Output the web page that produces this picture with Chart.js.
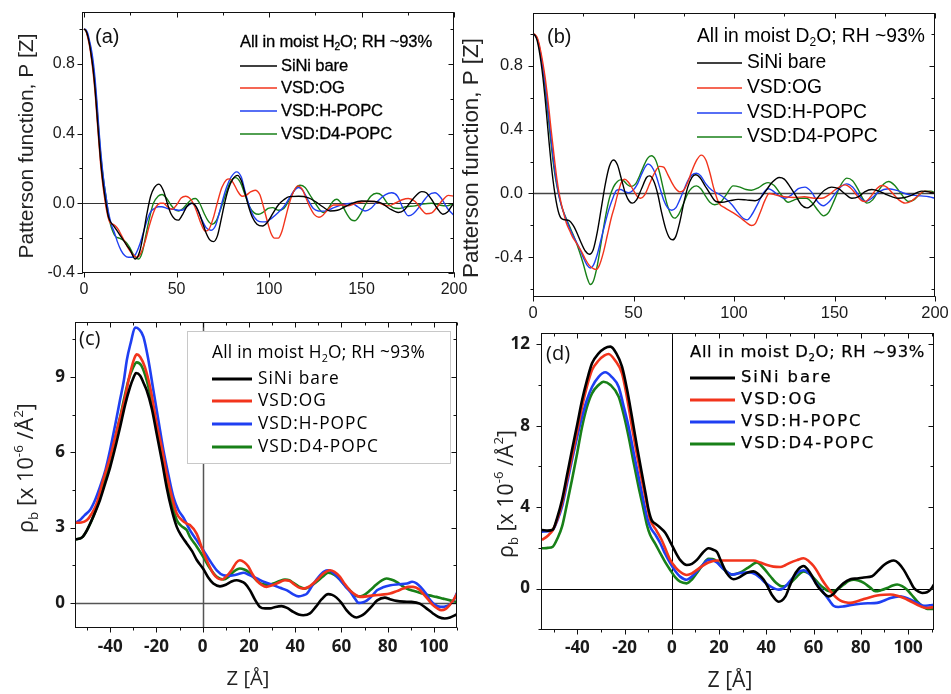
<!DOCTYPE html>
<html><head><meta charset="utf-8">
<script src="https://cdn.jsdelivr.net/npm/chart.js@4/dist/chart.umd.min.js"></script>
<style>
html,body{margin:0;padding:0;background:#fff;width:951px;height:694px;overflow:hidden}
canvas{position:absolute;left:0;top:0}
</style></head><body>
<canvas id="ca" width="951" height="694"></canvas>
<canvas id="cb" width="951" height="694"></canvas>
<canvas id="cc" width="951" height="694"></canvas>
<canvas id="cd" width="951" height="694"></canvas>
<script>
// ---------- series names ----------
const seriesNames = ['SiNi bare','VSD:OG','VSD:H-POPC','VSD:D4-POPC'];

// ---------- tick values ----------
const abXTicks = [0,50,100,150,200];
const abYTicks = [-0.4,0,0.4,0.8];
const cdXTicks = [-40,-20,0,20,40,60,80,100];
const cYTicks = [0,3,6,9];
const dYTicks = [0,4,8,12];

// ---------- panel (a): Patterson function, H2O ----------
const aSiNi = [[0,1.0],[1,0.99],[2,0.96],[3,0.91],[4,0.84],[5,0.76],[6,0.65],[7,0.51],[8,0.37],[9,0.24],[10,0.14],[11,0.06],[12,-0.01],[13,-0.07],[14,-0.1],[16,-0.13],[18,-0.16],[20.5,-0.2],[23,-0.24],[25,-0.27],[27.7,-0.32],[30,-0.28],[32,-0.18],[34,-0.06],[36,0.04],[38,0.09],[40.5,0.11],[43,0.07],[45,0.0],[47,-0.06],[49,-0.09],[51,-0.097],[53,-0.07],[55.5,-0.02],[58,0.0],[60,-0.01],[62,-0.05],[64,-0.11],[66,-0.17],[68,-0.21],[70,-0.22],[72,-0.19],[74,-0.1],[76,0.0],[78,0.08],[80.5,0.14],[83,0.16],[85,0.13],[87,0.06],[89,-0.02],[91,-0.08],[93.5,-0.12],[96.5,-0.13],[99,-0.11],[102,-0.06],[105,-0.01],[108,0.02],[111,0.038],[116,0.04],[121,0.032],[125,0.01],[129,-0.02],[133,-0.044],[137,-0.04],[141,-0.02],[145,0.0],[150,0.013],[157,0.01],[161,0.0],[165,-0.03],[170,-0.053],[173,-0.04],[176,0.0],[179.5,0.045],[182.5,0.067],[185,0.06],[188,0.02],[191,-0.03],[194,-0.063],[196.5,-0.05],[198.5,-0.02],[200,0.0]];
const aOG = [[0,1.0],[1,0.99],[2,0.95],[3,0.9],[4,0.83],[5,0.74],[6,0.63],[7,0.49],[8,0.35],[9,0.22],[10,0.12],[11,0.04],[12,-0.03],[13,-0.08],[14,-0.11],[15.5,-0.12],[17,-0.13],[18.5,-0.15],[20,-0.18],[22,-0.22],[24,-0.26],[26,-0.29],[28.6,-0.31],[30.5,-0.29],[33,-0.22],[35,-0.14],[37,-0.07],[39,-0.02],[41.3,0.0],[43,0.0],[45,-0.02],[47.6,-0.034],[50,-0.01],[52.5,0.03],[55,0.04],[57,0.03],[59,0.0],[61,-0.05],[63,-0.11],[65.5,-0.16],[67.5,-0.15],[70,-0.08],[72,0.0],[74.5,0.09],[77,0.135],[78.5,0.14],[80.5,0.12],[83,0.07],[85.5,0.04],[87.5,0.045],[90,0.065],[92.5,0.075],[95,0.05],[97,-0.02],[99,-0.1],[101,-0.17],[103,-0.2],[105,-0.2],[107,-0.16],[109,-0.08],[111,0.0],[113,0.06],[115.5,0.1],[118,0.08],[120,0.03],[122,-0.02],[124.5,-0.065],[127,-0.08],[129,-0.07],[131.5,-0.04],[135,-0.01],[140,-0.01],[143,-0.015],[147,0.0],[152,0.01],[157,0.01],[161,-0.005],[164.5,-0.015],[168,0.0],[172,0.02],[175.3,0.027],[179,0.01],[182,-0.03],[185,-0.06],[188,-0.055],[191,-0.02],[194,0.02],[197,0.045],[200,0.04]];
const aHPOPC = [[0,1.0],[1,0.995],[2,0.975],[3,0.93],[4,0.88],[5,0.81],[6,0.71],[7,0.58],[8,0.43],[9,0.3],[10,0.19],[11,0.1],[12,0.03],[13,-0.04],[14,-0.09],[15,-0.13],[16.5,-0.17],[18,-0.22],[20,-0.27],[22,-0.3],[24,-0.31],[26,-0.31],[28,-0.29],[30,-0.24],[32,-0.17],[34,-0.1],[36,-0.05],[38,-0.03],[40,-0.02],[42,-0.02],[45,-0.03],[48.5,-0.035],[51,-0.04],[53,-0.04],[55.5,-0.02],[58.4,0.0],[61,-0.03],[63.5,-0.09],[66,-0.14],[68.5,-0.155],[71,-0.13],[73,-0.06],[75,0.02],[77,0.09],[79.5,0.15],[82.5,0.18],[85,0.15],[87,0.07],[89.5,-0.02],[92,-0.08],[95,-0.105],[98,-0.107],[101.5,-0.085],[105,-0.053],[108,-0.02],[111,0.03],[113.5,0.07],[116,0.09],[118.5,0.07],[121,0.02],[124,-0.03],[126.7,-0.044],[130,-0.045],[134,-0.03],[139,-0.01],[144.7,0.0],[148,-0.02],[151.9,-0.044],[155,-0.03],[158.5,0.01],[163,0.05],[166.3,0.06],[169.5,0.04],[172.5,-0.03],[175.3,-0.072],[178,-0.06],[182,-0.01],[186,0.045],[189.7,0.06],[193,0.03],[196.5,-0.03],[200,-0.07]];
const aD4POPC = [[0,1.0],[1,0.99],[2,0.96],[3,0.92],[4,0.86],[5,0.78],[6,0.68],[7,0.55],[8,0.41],[9,0.28],[10,0.18],[11,0.1],[12,0.03],[13,-0.05],[14,-0.11],[15.5,-0.16],[17,-0.19],[19,-0.2],[22.3,-0.22],[24.5,-0.25],[26.5,-0.29],[29.5,-0.32],[31.5,-0.28],[33.5,-0.18],[35.5,-0.08],[37.5,0.0],[40,0.04],[42.2,0.05],[44.5,0.03],[47,-0.01],[49,-0.035],[51.2,-0.044],[53.5,-0.03],[56,0.0],[58,0.02],[60.2,0.027],[62.5,0.0],[65,-0.06],[67,-0.1],[69.2,-0.12],[71.5,-0.1],[74,-0.03],[76.5,0.05],[79,0.12],[81.8,0.147],[84.5,0.12],[87,0.05],[89.5,-0.02],[92,-0.055],[94.4,-0.063],[97,-0.05],[99.5,-0.03],[102,-0.025],[105,-0.04],[108,-0.03],[111,0.02],[114,0.08],[116.8,0.103],[119.5,0.09],[122,0.05],[125,0.0],[129.4,-0.053],[132,-0.03],[134.5,0.01],[136.6,0.023],[139,0.0],[142,-0.06],[144.5,-0.095],[146.5,-0.1],[149,-0.07],[152,-0.01],[155,0.04],[158.2,0.057],[161,0.045],[164,0.0],[167,-0.025],[170,-0.03],[174,-0.02],[178.9,-0.015],[183,-0.005],[188,0.0],[192,-0.01],[196,-0.015],[200,0.0]];

// ---------- panel (b): Patterson function, D2O ----------
const bSiNi = [[0,1.0],[1,0.99],[2,0.96],[3,0.9],[4,0.82],[5,0.72],[6,0.6],[7,0.46],[8,0.32],[9,0.19],[10,0.08],[11,-0.01],[12,-0.08],[13,-0.13],[14,-0.155],[16,-0.165],[18,-0.17],[20,-0.2],[22,-0.25],[24,-0.31],[26,-0.36],[28,-0.38],[30,-0.35],[32,-0.24],[34,-0.09],[36,0.06],[38,0.17],[40,0.21],[42,0.18],[44,0.09],[46,0.0],[48,-0.05],[49.5,-0.06],[51.5,-0.04],[54,0.03],[56.5,0.1],[58,0.11],[60,0.08],[62,0.0],[64,-0.12],[66,-0.22],[68,-0.28],[69.5,-0.29],[71,-0.27],[73,-0.18],[75,-0.06],[77,0.04],[79,0.1],[81,0.117],[83,0.1],[85.5,0.05],[88,0.0],[91,-0.05],[94,-0.055],[98,-0.045],[102,-0.037],[106,-0.04],[110.5,-0.045],[113,-0.03],[116,0.02],[119,0.07],[122.5,0.1],[125,0.09],[128,0.04],[131,-0.02],[133.5,-0.07],[136.2,-0.09],[139,-0.07],[142,-0.02],[145,0.02],[148.6,0.04],[152,0.03],[155,0.0],[158.6,-0.03],[162,-0.02],[165,0.01],[168.6,0.025],[172,0.015],[175.5,-0.005],[178.5,-0.02],[181.8,-0.03],[185,-0.025],[188.5,-0.01],[191,0.005],[193.5,0.015],[197,0.01],[200,0.0]];
const bOG = [[0,1.0],[1,0.995],[2,0.98],[3,0.94],[4,0.88],[5,0.81],[6,0.73],[7,0.63],[8,0.52],[9,0.4],[10,0.29],[11,0.18],[12,0.08],[13,0.0],[14,-0.06],[15,-0.11],[16.6,-0.185],[18.5,-0.24],[20,-0.28],[21.6,-0.31],[24,-0.36],[26,-0.41],[28,-0.45],[30,-0.47],[31.5,-0.475],[33,-0.45],[35,-0.37],[37,-0.26],[39,-0.15],[40.6,-0.08],[42,-0.01],[44,0.07],[45.6,0.09],[47.5,0.07],[50,0.02],[52,-0.02],[53.5,-0.03],[55.5,-0.01],[58,0.06],[60.5,0.13],[63,0.17],[65,0.165],[67,0.12],[69,0.07],[71,0.03],[73,0.01],[75,0.02],[77,0.07],[79,0.14],[81.5,0.21],[83.7,0.24],[86,0.21],[88,0.13],[90,0.03],[92.5,-0.06],[95.5,-0.09],[99.5,-0.12],[103,-0.15],[106,-0.18],[108.7,-0.2],[110.5,-0.19],[113,-0.12],[115.5,-0.04],[117.5,0.0],[121,-0.01],[125,-0.02],[130,-0.025],[135,-0.02],[140,-0.03],[143.7,-0.03],[147,-0.01],[150,0.02],[153,0.045],[155.3,0.054],[158,0.035],[161,-0.01],[163.5,-0.045],[165.3,-0.05],[168,-0.02],[171,0.03],[173.6,0.05],[176,0.04],[179,0.0],[182,-0.04],[185.1,-0.06],[188,-0.05],[191,-0.02],[195,0.015],[197.5,0.01],[200,0.0]];
const bHPOPC = [[0,1.0],[1,0.99],[2,0.97],[3,0.93],[4,0.86],[5,0.78],[6,0.69],[7,0.58],[8,0.46],[9,0.34],[10,0.23],[11,0.13],[12,0.05],[13,-0.02],[14,-0.07],[15,-0.11],[17,-0.18],[19,-0.24],[21,-0.29],[23,-0.34],[25,-0.4],[27,-0.45],[28.5,-0.466],[30,-0.45],[32,-0.38],[34,-0.28],[36,-0.18],[38,-0.09],[40,-0.02],[41.5,0.02],[43.5,0.025],[46,0.01],[47.5,0.005],[49.8,0.02],[52,0.06],[54,0.12],[56,0.17],[57.2,0.185],[59,0.17],[61,0.12],[63,0.04],[65,-0.04],[67,-0.09],[69,-0.105],[71,-0.09],[73,-0.04],[75,0.02],[77,0.08],[79,0.115],[81.3,0.127],[83.5,0.11],[86,0.06],[89,0.02],[92,0.0],[95.5,-0.03],[99,-0.07],[102,-0.12],[104.5,-0.155],[106.5,-0.165],[109,-0.13],[112,-0.06],[114.5,0.0],[117,0.03],[119,0.02],[122,-0.01],[125.3,-0.03],[128.5,-0.01],[132,0.03],[135.3,0.04],[138.5,0.01],[141.5,-0.05],[144.5,-0.077],[147.5,-0.05],[151,0.01],[154,0.05],[156.1,0.06],[159,0.04],[162,-0.01],[165.3,-0.05],[168.5,-0.03],[172,0.01],[176.9,0.03],[181,0.02],[185,0.0],[188.5,-0.01],[193,-0.015],[197,-0.02],[200,-0.03]];
const bD4POPC = [[0,1.0],[1,0.99],[2,0.97],[3,0.92],[4,0.85],[5,0.77],[6,0.67],[7,0.55],[8,0.43],[9,0.31],[10,0.2],[11,0.11],[12,0.04],[13,-0.02],[14,-0.07],[15,-0.11],[17,-0.17],[19,-0.23],[21,-0.29],[23,-0.36],[25,-0.44],[27,-0.53],[28.5,-0.57],[30,-0.55],[32,-0.45],[34,-0.3],[36,-0.15],[38,-0.03],[40,0.04],[42,0.075],[43.5,0.085],[45,0.08],[47,0.055],[48.9,0.044],[51,0.06],[53,0.11],[55,0.17],[57,0.22],[58.9,0.236],[61,0.21],[63,0.13],[65,0.02],[67,-0.08],[69,-0.14],[70.5,-0.154],[72.5,-0.13],[75,-0.06],[77,0.0],[79,0.035],[81.3,0.048],[83.5,0.03],[86,-0.02],[88,-0.055],[90.4,-0.07],[93,-0.06],[96,-0.01],[99.6,0.048],[103,0.04],[106,0.025],[108.7,0.02],[112,0.035],[115,0.06],[117,0.068],[120,0.05],[123,0.0],[127,-0.055],[130,-0.04],[132.8,-0.03],[136,-0.03],[139,-0.06],[142,-0.11],[144.5,-0.14],[147,-0.12],[150,-0.04],[153,0.05],[156.1,0.096],[159,0.08],[162,0.02],[164,-0.03],[166.1,-0.06],[169,-0.04],[172,0.02],[174.5,0.06],[176.9,0.075],[180,0.05],[183,0.0],[186.8,-0.05],[189.5,-0.04],[192,-0.01],[195,0.015],[198,0.015],[200,0.005]];

// ---------- panel (c): rho_b profile, H2O ----------
const cSiNi = [[-55,2.53],[-52,2.62],[-50,2.9],[-47,3.5],[-44.4,4.1],[-42,4.8],[-40,5.4],[-37.5,6.3],[-35.7,7.0],[-33.5,7.9],[-31.4,8.6],[-30,8.95],[-28.8,9.16],[-27,9.05],[-25.5,8.75],[-24.2,8.47],[-22,7.75],[-19.9,6.75],[-17.5,5.6],[-15.6,4.62],[-13.5,3.75],[-11.2,3.03],[-9,2.65],[-6.9,2.37],[-4.5,2.05],[-2.6,1.72],[0.3,1.35],[2.5,1.0],[4.6,0.77],[7.5,0.66],[10,0.72],[12.5,0.85],[14.7,0.9],[16.5,0.86],[18.3,0.77],[20.5,0.5],[22.5,0.15],[24.8,-0.16],[27,-0.22],[29.1,-0.22],[31.5,-0.16],[34.1,-0.13],[36.5,-0.2],[39.2,-0.36],[41.5,-0.46],[43.5,-0.49],[46.4,-0.42],[49,-0.15],[51.5,0.15],[54.3,0.35],[56,0.32],[57.9,0.21],[60,0.0],[62.2,-0.29],[64.5,-0.5],[66.5,-0.58],[68.5,-0.52],[70.1,-0.42],[73,-0.15],[75.5,0.1],[78.8,0.21],[81,0.15],[83.8,0.08],[87,0.05],[90.3,0.04],[93.9,-0.03],[96.5,-0.2],[99.6,-0.42],[102,-0.56],[104.7,-0.62],[107,-0.58],[110,-0.45]];
const cOG = [[-55,3.19],[-52.5,3.2],[-50,3.3],[-48,3.55],[-45.8,3.96],[-43,4.9],[-40,5.8],[-37,6.9],[-34,8.0],[-31.5,9.1],[-29.5,9.75],[-28.5,9.9],[-27,9.8],[-25,9.4],[-22.5,8.5],[-19.9,7.15],[-17.5,6.1],[-15.6,5.15],[-13.5,4.3],[-11.2,3.56],[-9,3.3],[-6.9,3.16],[-5.5,3.1],[-2.6,2.76],[0.3,2.03],[2.5,1.55],[4.6,1.17],[6.5,0.98],[8.2,0.93],[10.5,1.08],[12.5,1.3],[14.5,1.6],[16.1,1.7],[18,1.62],[19.7,1.46],[21.5,1.15],[23.3,0.9],[25.5,0.72],[27.6,0.64],[30,0.7],[32,0.77],[35.6,0.9],[37.5,0.88],[39.2,0.77],[41.5,0.62],[43.5,0.57],[46,0.65],[49.3,0.9],[52,1.15],[55,1.3],[57,1.24],[59.4,1.04],[61.5,0.75],[63.7,0.5],[66,0.33],[68,0.24],[71,0.26],[73.8,0.3],[77.5,0.33],[81,0.37],[84,0.47],[86.7,0.57],[89,0.64],[91,0.64],[93.5,0.55],[95.3,0.37],[97.5,0.14],[99.6,-0.09],[101.5,-0.22],[103.2,-0.29],[105,-0.25],[106.8,-0.09],[108.5,0.12],[110,0.37]];
const cHPOPC = [[-55,3.19],[-53,3.3],[-51,3.5],[-48.7,3.7],[-46.5,4.1],[-44.4,4.62],[-42,5.3],[-40,6.1],[-37.8,7.1],[-35.7,8.1],[-34,8.9],[-32.8,9.67],[-31,10.4],[-29.2,10.97],[-27.5,10.9],[-25.6,10.6],[-23.5,9.7],[-21.3,8.47],[-19,7.2],[-17,6.1],[-14.8,5.1],[-12.6,4.2],[-10.5,3.7],[-8.3,3.4],[-5.5,2.9],[-2.6,2.5],[0.3,2.1],[3,1.7],[6.1,1.3],[9,1.1],[11,1.08],[13.4,1.1],[15.5,1.15],[17.7,1.2],[20,1.12],[23.5,0.97],[27,0.82],[30.7,0.7],[33.5,0.6],[36.5,0.5],[39,0.35],[41.5,0.26],[43.5,0.3],[45.1,0.37],[47.5,0.7],[50.2,1.04],[52.5,1.25],[54.5,1.3],[57,1.15],[59.6,0.9],[61.8,0.65],[63.9,0.44],[65.8,0.18],[67.5,0.0],[69.5,0.03],[71.1,0.1],[73.5,0.3],[75.4,0.5],[78,0.62],[81.2,0.7],[85,0.74],[88.4,0.77],[90.6,0.84],[92.5,0.78],[94.2,0.64],[96.5,0.38],[98.5,0.1],[100.5,-0.08],[102.9,-0.16],[104.5,-0.15],[106.5,-0.09],[108.5,0.1],[110,0.4]];
const cD4POPC = [[-55,2.53],[-52,2.62],[-50,2.9],[-47,3.5],[-44.4,4.2],[-42,5.0],[-40,5.7],[-37.8,6.6],[-35.7,7.4],[-33.8,8.2],[-32.1,8.87],[-30.2,9.35],[-28.5,9.58],[-26.5,9.45],[-24.2,8.87],[-22,8.0],[-19.9,7.0],[-17.8,5.95],[-15.6,4.9],[-13.4,4.0],[-11.2,3.3],[-9,3.05],[-6.9,2.9],[-5.5,2.63],[-2.6,2.25],[0.3,1.83],[3,1.4],[6.1,1.04],[9,0.93],[11,1.02],[13.5,1.25],[16.1,1.37],[18,1.33],[19.7,1.24],[22,1.02],[24,0.84],[26.2,0.74],[28.5,0.72],[30.5,0.77],[33,0.86],[35.6,0.93],[37.5,0.9],[39.2,0.8],[41.5,0.66],[44.2,0.57],[46.5,0.65],[49.3,0.84],[52,1.05],[54.3,1.2],[57,1.12],[59.4,0.93],[61.5,0.7],[63.7,0.5],[65.5,0.33],[67.3,0.26],[69.5,0.3],[72.4,0.5],[75,0.72],[77.5,0.9],[79.5,0.97],[81.5,0.93],[83.8,0.84],[86,0.7],[88.2,0.57],[91.5,0.47],[95.3,0.37],[98,0.3],[101.1,0.24],[104,0.17],[107,0.1],[110,0.04]];

// ---------- panel (d): rho_b profile, D2O ----------
const dSiNi = [[-55,2.88],[-52.5,2.85],[-50.4,2.9],[-48.5,3.5],[-46.5,4.35],[-44.5,5.5],[-42.3,6.8],[-40,8.1],[-38,9.26],[-36,10.2],[-33.8,11.06],[-31,11.55],[-28.5,11.8],[-26,11.88],[-23.5,11.55],[-21.1,10.9],[-19,9.8],[-16.9,8.44],[-14.8,7.0],[-12.7,5.66],[-11,4.6],[-9.9,3.9],[-8.5,3.35],[-7.1,3.2],[-5,3.0],[-2.8,2.75],[-0.7,2.3],[1.5,1.8],[3.5,1.41],[6.3,1.16],[8.5,1.22],[10.6,1.41],[13,1.75],[15.5,1.98],[17.3,1.92],[19.1,1.8],[21,1.3],[23.3,0.75],[26.2,0.46],[28.5,0.55],[30.4,0.69],[32.5,0.8],[34.6,0.85],[36.8,0.7],[38.9,0.44],[40.8,0.05],[42.4,-0.31],[45.2,-0.64],[48.1,-0.38],[49.8,0.1],[51.6,0.61],[53.5,0.95],[55.8,1.11],[57.5,0.95],[59.4,0.61],[61,0.25],[62.9,-0.05],[66.4,-0.38],[68,-0.3],[70,-0.05],[72.5,0.25],[75.6,0.46],[78.5,0.5],[81.3,0.55],[84.8,0.61],[87.5,0.9],[89.8,1.16],[92,1.32],[94,1.38],[96,1.25],[98.2,0.92],[100.5,0.45],[102.5,0.03],[104.5,-0.15],[106,-0.21],[108,-0.18],[109.5,-0.05],[111,0.2]];
const dOG = [[-55,2.39],[-52.5,2.6],[-50.4,2.88],[-48.5,3.4],[-46.5,4.19],[-44.5,5.3],[-42.3,6.48],[-40,7.8],[-38,8.93],[-36,9.9],[-33.8,10.73],[-31,11.2],[-28.5,11.45],[-26.8,11.52],[-24,11.2],[-21.1,10.57],[-19,9.4],[-16.9,7.95],[-14.8,6.6],[-12.7,5.33],[-10.5,4.1],[-9.2,3.4],[-6.5,2.85],[-4.3,2.39],[-2.5,1.9],[-0.7,1.41],[1.5,1.05],[3.5,0.83],[6.3,0.67],[8.5,0.75],[10.6,0.92],[13,1.12],[15.5,1.28],[19.1,1.38],[22,1.38],[26.2,1.38],[30,1.38],[34.6,1.38],[37.5,1.28],[40.3,1.16],[43,1.08],[45.9,1.06],[48,1.15],[50.2,1.28],[53,1.4],[55.8,1.49],[58,1.35],[60.1,1.1],[61.8,0.8],[63.6,0.44],[65.5,0.12],[67.2,-0.13],[69.5,-0.42],[71.4,-0.59],[73.5,-0.67],[75.6,-0.7],[78.5,-0.62],[81.3,-0.51],[84,-0.42],[86.9,-0.34],[90,-0.3],[92.6,-0.29],[95.5,-0.35],[98.2,-0.46],[101,-0.62],[103.9,-0.79],[106,-0.9],[108.1,-0.95],[111,-0.9]];
const dHPOPC = [[-55,2.8],[-52.5,2.82],[-50.4,2.88],[-48.5,3.35],[-46.5,4.02],[-44.5,5.1],[-42.3,6.3],[-40,7.5],[-38,8.44],[-36,9.25],[-33.8,9.9],[-31,10.4],[-28.2,10.62],[-25.5,10.4],[-22.5,9.9],[-20.5,9.0],[-18.3,7.95],[-16.2,6.7],[-14.1,5.5],[-12,4.3],[-10.5,3.5],[-9.2,3.04],[-7,2.65],[-4.9,2.23],[-2.8,1.7],[-0.7,1.25],[1.5,0.85],[3.5,0.59],[6.3,0.44],[8.5,0.6],[10.6,0.85],[13,1.15],[15.5,1.42],[17.3,1.4],[19.1,1.28],[22,0.95],[25.5,0.69],[29,0.77],[33.2,0.8],[35.5,0.7],[37.5,0.52],[39.5,0.3],[41.7,0.11],[43.5,0.0],[45.2,-0.05],[47,0.0],[48.8,0.2],[51,0.5],[53,0.77],[55.8,0.9],[58,0.75],[60.1,0.44],[62.2,0.1],[64.3,-0.21],[66.5,-0.55],[68.6,-0.85],[70.5,-0.9],[72.8,-0.87],[76,-0.8],[79.9,-0.74],[83,-0.72],[86.9,-0.7],[90,-0.58],[92.6,-0.46],[96.1,-0.38],[98.5,-0.42],[101.1,-0.54],[104,-0.7],[106.8,-0.84],[109,-0.82],[111,-0.79]];
const dD4POPC = [[-55,1.98],[-52.5,2.0],[-50.4,2.06],[-48.5,2.45],[-46.5,3.04],[-44.5,4.1],[-42.3,5.33],[-40,6.7],[-38,7.95],[-36,8.9],[-33.8,9.59],[-31,10.0],[-28.9,10.16],[-26,10.0],[-22.5,9.42],[-20.5,8.6],[-18.3,7.46],[-16.2,6.2],[-14.1,5.0],[-12,3.9],[-10.5,3.1],[-9.2,2.64],[-7,2.2],[-4.9,1.74],[-2.8,1.3],[-0.7,0.92],[1.5,0.55],[3.5,0.34],[6.3,0.26],[8.5,0.45],[10.6,0.77],[13,1.15],[15.5,1.46],[17.3,1.45],[19.1,1.33],[22,0.95],[25.5,0.69],[29,0.8],[32.5,1.05],[36,1.28],[38.5,1.05],[41.7,0.61],[44,0.3],[46.6,0.11],[48.5,0.15],[50.2,0.28],[53,0.6],[55.8,0.85],[58,0.75],[60.1,0.52],[62.2,0.25],[64.3,0.03],[66,-0.1],[67.8,-0.13],[70,-0.05],[72.8,0.2],[75,0.38],[77.1,0.44],[79,0.4],[81.3,0.28],[84,0.05],[86.2,-0.13],[88.5,-0.08],[91.2,0.03],[93.5,0.15],[95.4,0.2],[97.5,0.12],[99.6,-0.05],[101.5,-0.3],[103.9,-0.62],[106,-0.85],[108.1,-1.0],[111,-1.0]];

// ---------- texts ----------
const titleH2O = [{t:'All in moist H'},{t:'2',m:'sub'},{t:'O; RH ~93%'}];
const titleD2O = [{t:'All in moist D'},{t:'2',m:'sub'},{t:'O; RH ~93%'}];
const pattersonTitle = [{t:'Patterson function, P [Z]'}];
const rhoTitle = [{t:'\u03C1'},{t:'b',m:'sub'},{t:' [x 10'},{t:'-6',m:'sup'},{t:' /\u00C5'},{t:'2',m:'sup'},{t:']'}];
const zTitle = [{t:'Z [\u00C5]'}];

const COLORS = ['#000000','#f2341c','#1f3ff2','#188018'];

// ---------- drawing helpers ----------
function setFont(ctx,size,family,weight){ ctx.font = (weight||'normal')+' '+size+'px "'+family+'"'; }
function segSize(s,size){ return s.m ? size*0.62 : size; }
function segW(ctx,s,size,family,weight,ls){
  setFont(ctx,segSize(s,size),family,weight);
  return ctx.measureText(s.t).width + (ls||0)*s.t.length;
}
function segsW(ctx,segs,size,family,weight,ls){ let w=0; for(const s of segs) w+=segW(ctx,s,size,family,weight,ls); return w; }
function drawSegs(ctx,segs,x,y,size,family,weight,color,align,ls,stroke){
  ls = ls||0;
  const total = segsW(ctx,segs,size,family,weight,ls);
  let cx = align==='center' ? x-total/2 : x;
  ctx.fillStyle=color; ctx.strokeStyle=color; ctx.lineWidth=stroke||0; ctx.lineJoin='round';
  ctx.textBaseline='middle'; ctx.textAlign='left';
  const put=(t,px,py)=>{ ctx.fillText(t,px,py); if(stroke) ctx.strokeText(t,px,py); };
  for(const s of segs){
    setFont(ctx,segSize(s,size),family,weight);
    const dy = s.m==='sub' ? size*0.32 : (s.m==='sup' ? -size*0.36 : 0);
    if(Math.abs(ls)<0.05){ put(s.t,cx,y+dy); cx+=ctx.measureText(s.t).width; }
    else { for(const ch of s.t){ put(ch,cx,y+dy); cx+=ctx.measureText(ch).width+ls; } }
  }
}
function fitSize(ctx,segs,family,weight,target){ return 100*target/segsW(ctx,segs,100,family,weight,0); }
function fitLS(ctx,segs,size,family,weight,target){
  const w = segsW(ctx,segs,size,family,weight,0);
  let n=0; for(const s of segs) n+=s.t.length;
  return (target-w)/n;
}
function minorVals(min,max,step){ const o=[]; for(let v=Math.ceil(min/step-1e-9)*step; v<=max+1e-9; v+=step) o.push(v); return o; }

function decor(cfg){
  return {
    id:'decor'+cfg.id,
    beforeDatasetsDraw(chart){
      const {ctx,chartArea:a,scales:{x,y}} = chart;
      ctx.save();
      ctx.strokeStyle=cfg.zeroColor; ctx.lineWidth=cfg.zeroW;
      const y0 = Math.round(y.getPixelForValue(0))+0.5;
      ctx.beginPath(); ctx.moveTo(a.left,y0); ctx.lineTo(a.right,y0); ctx.stroke();
      if(cfg.vzero){
        const x0 = Math.round(x.getPixelForValue(0))+0.5;
        ctx.beginPath(); ctx.moveTo(x0,a.top); ctx.lineTo(x0,a.bottom); ctx.stroke();
      }
      ctx.restore();
    },
    afterDatasetsDraw(chart){
      const {ctx,chartArea:a,scales:{x,y}} = chart;
      ctx.save();
      ctx.strokeStyle='#111'; ctx.lineWidth=1;
      const L=Math.round(a.left)+0.5, R=Math.round(a.right)-0.5, T=Math.round(a.top)+0.5, B=Math.round(a.bottom)-0.5;
      ctx.strokeRect(L,T,R-L,B-T);
      const tick=(vals,len)=>{
        ctx.beginPath();
        for(const v of vals){
          if(v<x.min-1e-9||v>x.max+1e-9) continue;
          const px=Math.round(x.getPixelForValue(v))+0.5;
          ctx.moveTo(px,B); ctx.lineTo(px,B+len);
          ctx.moveTo(px,T); ctx.lineTo(px,T+len);
        }
        ctx.stroke();
      };
      const tickY=(vals,len)=>{
        ctx.beginPath();
        for(const v of vals){
          if(v<y.min-1e-9||v>y.max+1e-9) continue;
          const py=Math.round(y.getPixelForValue(v))+0.5;
          ctx.moveTo(L,py); ctx.lineTo(L-len,py);
          ctx.moveTo(R,py); ctx.lineTo(R-len,py);
        }
        ctx.stroke();
      };
      tick(minorVals(x.min,x.max,cfg.xMinor),3); tick(cfg.xTicks,5);
      tickY(minorVals(y.min,y.max,cfg.yMinor),3); tickY(cfg.yTicks,5);
      const lg=cfg.legend;
      if(lg.box){
        ctx.fillStyle='#fff'; ctx.fillRect(lg.box[0],lg.box[1],lg.box[2]-lg.box[0],lg.box[3]-lg.box[1]);
        ctx.strokeStyle='#c8c8c8'; ctx.lineWidth=1;
        ctx.strokeRect(lg.box[0]+0.5,lg.box[1]+0.5,lg.box[2]-lg.box[0]-1,lg.box[3]-lg.box[1]-1);
      }
      const tls = fitLS(ctx,lg.title,lg.size,lg.family,lg.weight,lg.titleW);
      drawSegs(ctx,lg.title,lg.x,lg.titleY,lg.size,lg.family,lg.weight,'#000','left',tls,lg.stroke);
      const els = fitLS(ctx,[{t:'VSD:D4-POPC'}],lg.size,lg.family,lg.weight,lg.entryW);
      chart.data.datasets.forEach((d,i)=>{
        const ry=lg.rows[i];
        ctx.strokeStyle=d.borderColor; ctx.lineWidth=lg.lw;
        ctx.beginPath(); ctx.moveTo(lg.lx0,ry); ctx.lineTo(lg.lx1,ry); ctx.stroke();
        drawSegs(ctx,[{t:d.label}],lg.tx,ry,lg.size,lg.family,lg.weight,'#000','left',els,lg.stroke);
      });
      drawSegs(ctx,[{t:cfg.panel.t}],cfg.panel.x,cfg.panel.y,cfg.panel.size,cfg.panel.family,'normal','#111','left',0);
      const yt=cfg.yTitle;
      const ysz=fitSize(ctx,yt.segs,yt.family,'normal',yt.len);
      ctx.save(); ctx.translate(yt.cx,yt.cy); ctx.rotate(-Math.PI/2);
      drawSegs(ctx,yt.segs,0,0,ysz,yt.family,'normal','#222','center',0);
      ctx.restore();
      if(cfg.xTitle){
        const xt=cfg.xTitle;
        const xsz=fitSize(ctx,xt.segs,xt.family,'normal',xt.len);
        drawSegs(ctx,xt.segs,xt.cx,xt.cy,xsz,xt.family,'normal','#222','center',0);
      }
      ctx.restore();
    }
  };
}

function makePanel(cfg){
  const P=cfg.plot;
  const datasets=cfg.series.map((s,i)=>({
    label:seriesNames[i],
    data:s.map(p=>({x:p[0],y:p[1]})),
    borderColor:COLORS[i], backgroundColor:COLORS[i],
    borderWidth:cfg.lw, pointRadius:0, fill:false,
    cubicInterpolationMode:'monotone'
  }));
  new Chart(document.getElementById(cfg.id),{
    type:'line',
    data:{datasets},
    options:{
      responsive:false, animation:false, devicePixelRatio:1, events:[],
      layout:{autoPadding:false, padding:{left:0,top:P.T,right:951-P.R,bottom:0}},
      plugins:{legend:{display:false},tooltip:{enabled:false}},
      scales:{
        x:{type:'linear',min:cfg.xMin,max:cfg.xMax,
          grid:{display:false,drawTicks:false},border:{display:false},
          afterBuildTicks(s){ s.ticks=cfg.xTicks.map(v=>({value:v})); },
          afterFit(s){ s.height=694-P.B; s.paddingLeft=0; s.paddingRight=0; },
          ticks:{font:cfg.tickFont,color:'#1a1a1a',padding:cfg.xPad,maxRotation:0,autoSkip:false,callback:v=>String(v)}},
        y:{type:'linear',min:cfg.yMin,max:cfg.yMax,
          grid:{display:false,drawTicks:false},border:{display:false},
          afterBuildTicks(s){ s.ticks=cfg.yTicks.map(v=>({value:v})); },
          afterFit(s){ s.width=P.L; s.paddingTop=0; s.paddingBottom=0; },
          ticks:{font:cfg.tickFont,color:'#1a1a1a',padding:cfg.yPad,autoSkip:false,callback:cfg.yFmt}}
      }
    },
    plugins:[decor(cfg)]
  });
}

const fmt1 = v=>v.toFixed(1);
const fmt0 = v=>String(v);

makePanel({id:'ca',plot:{L:82,T:12,R:454,B:273},
  xMin:-1.1,xMax:200,yMin:-0.4,yMax:1.097,xTicks:abXTicks,yTicks:abYTicks,xMinor:25,yMinor:0.2,yFmt:fmt1,
  series:[aSiNi,aOG,aHPOPC,aD4POPC],lw:1.4,
  tickFont:{family:'Liberation Sans',size:16},xPad:7.2,yPad:7,
  zeroColor:'#333',zeroW:1,vzero:false,
  legend:{title:titleH2O,family:'Liberation Sans',weight:'normal',size:16.6,x:240,titleY:42,titleW:192,rows:[66,88,111,134],lx0:240,lx1:277,tx:281,entryW:111,lw:1.5,stroke:0.3},
  panel:{t:'(a)',x:95,y:37,size:20,family:'Liberation Sans'},
  yTitle:{segs:pattersonTitle,family:'Liberation Sans',cx:27,cy:146,len:225}
});
makePanel({id:'cb',plot:{L:533,T:13,R:935,B:297},
  xMin:0,xMax:200,yMin:-0.648,yMax:1.13,xTicks:abXTicks,yTicks:abYTicks,xMinor:25,yMinor:0.2,yFmt:fmt1,
  series:[bSiNi,bOG,bHPOPC,bD4POPC],lw:1.4,
  tickFont:{family:'Liberation Sans',size:16.5},xPad:7,yPad:10,
  zeroColor:'#444',zeroW:1.3,vzero:false,
  legend:{title:titleD2O,family:'Liberation Sans',weight:'normal',size:19.3,x:697,titleY:37,titleW:228,rows:[63,88,113,137],lx0:697,lx1:742,tx:747,entryW:131,lw:1.5},
  panel:{t:'(b)',x:547,y:37,size:20,family:'Liberation Sans'},
  yTitle:{segs:pattersonTitle,family:'Liberation Sans',cx:472,cy:158,len:240}
});
makePanel({id:'cc',plot:{L:75,T:322,R:457,B:628},
  xMin:-55.2,xMax:110,yMin:-1.0,yMax:11.19,xTicks:cdXTicks,yTicks:cYTicks,xMinor:10,yMinor:1.5,yFmt:fmt0,
  series:[cSiNi,cOG,cHPOPC,cD4POPC],lw:2.6,
  tickFont:{family:'Open Sans',size:17,weight:'bold'},xPad:8.8,yPad:10,
  zeroColor:'#555',zeroW:1.5,vzero:true,
  legend:{box:[187,331,451,464],title:titleH2O,family:'Open Sans',weight:'normal',size:17.3,x:212,titleY:353,titleW:213,rows:[379,401,424,447],lx0:212,lx1:252,tx:258,entryW:121,lw:3},
  panel:{t:'(c)',x:79,y:339,size:20,family:'Open Sans'},
  yTitle:{segs:rhoTitle,family:'Open Sans',cx:27,cy:468,len:130},
  xTitle:{segs:zTitle,family:'Open Sans',cx:248,cy:679,len:43}
});
makePanel({id:'cd',plot:{L:541,T:333,R:934,B:630},
  xMin:-55.4,xMax:111,yMin:-2.03,yMax:12.55,xTicks:cdXTicks,yTicks:dYTicks,xMinor:10,yMinor:2,yFmt:fmt0,
  series:[dSiNi,dOG,dHPOPC,dD4POPC],lw:2.6,
  tickFont:{family:'Open Sans',size:17,weight:'bold'},xPad:7.8,yPad:11,
  zeroColor:'#000',zeroW:1,vzero:true,
  legend:{title:titleD2O,family:'DejaVu Sans',weight:'normal',size:16.4,x:690,titleY:353,titleW:235,rows:[378,400,422,444],lx0:690,lx1:735,tx:741,entryW:134,lw:3,stroke:0.25},
  panel:{t:'(d)',x:546,y:354,size:20,family:'Open Sans'},
  yTitle:{segs:rhoTitle,family:'Open Sans',cx:507,cy:494,len:128},
  xTitle:{segs:zTitle,family:'Open Sans',cx:730,cy:681,len:45}
});
</script>
</body></html>
